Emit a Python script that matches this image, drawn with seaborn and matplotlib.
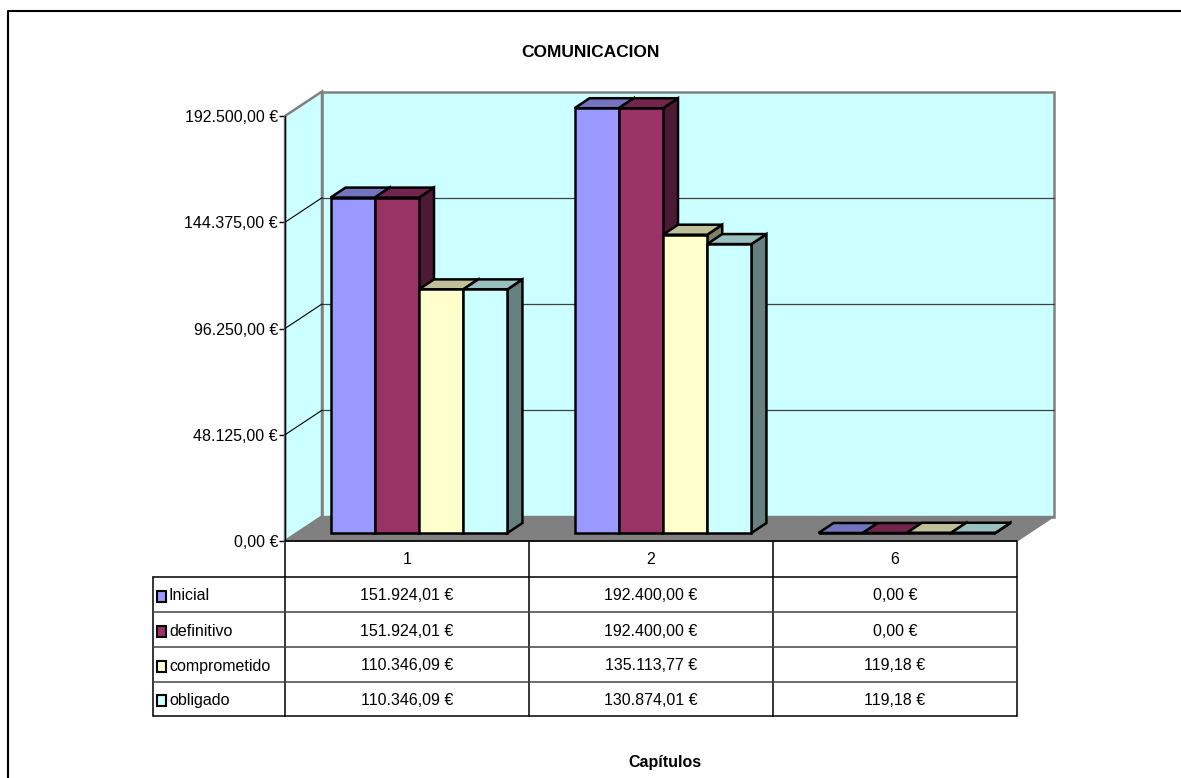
import numpy as np
import pandas as pd
import matplotlib
matplotlib.use('Agg')
import matplotlib.pyplot as plt
import seaborn as sns
from matplotlib.patches import Polygon, Rectangle
from matplotlib.lines import Line2D

# ---------------- data ----------------
capitulos = ['1', '2', '6']
series = ['Inicial', 'definitivo', 'comprometido', 'obligado']
inicial = [151924.01, 192400.00, 0.00]
definitivo = [151924.01, 192400.00, 0.00]
comprometido = [110346.09, 135113.77, 119.18]
obligado = [110346.09, 130874.01, 119.18]
y_ticks = [0, 48125, 96250, 144375, 192500]
colors = ['#9999FF', '#993366', '#FFFFCC', '#CCFFFF']
title = 'COMUNICACION'
xlabel = 'Capítulos'


def eur(v):
    s = f"{v:,.2f}"
    s = s.replace(',', 'X').replace('.', ',').replace('X', '.')
    return s + ' €'


values = {'Inicial': inicial, 'definitivo': definitivo,
          'comprometido': comprometido, 'obligado': obligado}
rows = []
for s in series:
    for c, v in zip(capitulos, values[s]):
        rows.append({'Capítulo': c, 'Serie': s, 'Importe': v})
df = pd.DataFrame(rows)

sns.set_style('white')
plt.rcParams['font.family'] = ['Liberation Sans', 'DejaVu Sans']
plt.rcParams['text.color'] = 'black'
plt.rcParams['axes.labelcolor'] = 'black'
plt.rcParams['ytick.color'] = 'black'
plt.rcParams['xtick.color'] = 'black'

W, H = 1181, 778
fig = plt.figure(figsize=(W / 100, H / 100), dpi=100)
fig.patch.set_facecolor('white')

# front plane of the 3D box (pixels)
X0, X1 = 285, 1017
Y0, Y1 = 541, 116
ax = fig.add_axes([X0 / W, 1 - Y0 / H, (X1 - X0) / W, (Y0 - Y1) / H])
ax.set_zorder(2)
ax.patch.set_visible(False)

sns.barplot(data=df, x='Capítulo', y='Importe', hue='Serie', order=capitulos,
            hue_order=series, palette=colors, saturation=1, width=0.725,
            dodge=True, errorbar=None, edgecolor='black', linewidth=1.8,
            legend=False, ax=ax)

ymax = y_ticks[-1]
ncat = len(capitulos)
ax.set_xlim(-0.5, ncat - 0.5)
ax.set_ylim(0, ymax)
PXX = ncat / (X1 - X0)
PXY = ymax / (Y0 - Y1)

# depth vectors (pixel -> data)
WDX, WDY = 37 * PXX, 24.5 * PXY      # wall depth
BDX, BDY = 12 * PXX, 8 * PXY         # bar plane offset
DDX, DDY = 15 * PXX, 10 * PXY        # bar depth

wall = '#CCFFFF'
gray = '#808080'
xl, xr = -0.5, ncat - 0.5
# back wall
ax.add_patch(Rectangle((xl + WDX, WDY), xr - xl, ymax, facecolor=wall,
                       edgecolor=gray, lw=1.8, zorder=1, clip_on=False))
# left wall
ax.add_patch(Polygon([(xl, 0), (xl, ymax), (xl + WDX, ymax + WDY), (xl + WDX, WDY)],
                     closed=True, facecolor=wall, edgecolor=gray, lw=1.8,
                     zorder=1, clip_on=False))
# floor
ax.add_patch(Polygon([(xl, 0), (xr, 0), (xr + WDX, WDY), (xl + WDX, WDY)],
                     closed=True, facecolor=gray, edgecolor=gray, lw=1,
                     zorder=1.5, clip_on=False))
# gridlines
for v in y_ticks[1:-1]:
    ax.add_line(Line2D([xl + WDX, xr + WDX], [v + WDY, v + WDY], color='#404040',
                       lw=0.9, zorder=1.2, clip_on=False))
    ax.add_line(Line2D([xl, xl + WDX], [v, v + WDY], color='black',
                       lw=0.8, zorder=1.2, clip_on=False))
ax.add_line(Line2D([xl, xr], [0, 0], color='black', lw=1.2, zorder=1.6, clip_on=False))

# 3D bars (front faces come from seaborn)
bars = sorted([p for p in ax.patches if isinstance(p, Rectangle) and p.get_width() < 0.5],
              key=lambda p: p.get_x())
for i, p in enumerate(bars):
    x0 = p.get_x() + BDX
    w = p.get_width()
    h = p.get_height()
    x1 = x0 + w
    yb = BDY
    yt = BDY + h
    fc = np.array(p.get_facecolor()[:3])
    p.set_xy((x0, yb))
    p.set_zorder(10 + 3 * i + 2)
    p.set_clip_on(False)
    side = Polygon([(x1, yb), (x1 + DDX, yb + DDY), (x1 + DDX, yt + DDY), (x1, yt)],
                   closed=True, facecolor=fc * 0.5, edgecolor='black', lw=1.8,
                   zorder=10 + 3 * i, clip_on=False)
    top = Polygon([(x0, yt), (x1, yt), (x1 + DDX, yt + DDY), (x0 + DDX, yt + DDY)],
                  closed=True, facecolor=fc * 0.75, edgecolor='black', lw=1.8,
                  zorder=10 + 3 * i + 1, clip_on=False)
    ax.add_patch(side)
    ax.add_patch(top)

# axes styling
for sp in ['top', 'right', 'bottom']:
    ax.spines[sp].set_visible(False)
ax.spines['left'].set_color('black')
ax.spines['left'].set_linewidth(1.0)
ax.spines['left'].set_zorder(3)
ax.set_xticks([])
ax.set_yticks(y_ticks)
ax.set_yticklabels([eur(v) for v in y_ticks])
ax.tick_params(axis='y', direction='out', length=4.5, width=1, color='black',
               labelcolor='black', labelsize=11.5, pad=0.5, left=True)
ax.set_xlabel('')
ax.set_ylabel('')

# overlay for table, titles, border
ov = fig.add_axes([0, 0, 1, 1])
ov.set_zorder(1)
ov.set_xlim(0, W)
ov.set_ylim(H, 0)
ov.axis('off')

# outer border (extends beyond the canvas on right/bottom)
ov.plot([8, 8, W + 5], [H + 5, 11, 11], color='black', lw=1.5)

ov.text(590, 52, title, ha='center', va='center', fontsize=12.5, fontweight='bold',
        color='black')
ov.text(665, 762, xlabel, ha='center', va='center', fontsize=11.5, fontweight='bold',
        color='black')

# data table
colw = (X1 - X0) / ncat
TL = 153
row_edges = [541, 577, 612, 647, 682, 716]
for k in range(ncat + 1):
    xx = X0 + k * colw
    ov.plot([xx, xx], [row_edges[0], row_edges[-1]], color='black', lw=1.1)
ov.plot([TL, TL], [row_edges[1], row_edges[-1]], color='black', lw=1.1)
for j, yy in enumerate(row_edges[1:]):
    c = 'black' if j in (0, len(row_edges) - 2) else '#444444'
    ov.plot([TL, X1], [yy, yy], color=c, lw=1.1)

for k, cap in enumerate(capitulos):
    ov.text(X0 + (k + 0.5) * colw, (row_edges[0] + row_edges[1]) / 2 + 1, cap,
            ha='center', va='center', fontsize=11.5, color='black')
for j, s in enumerate(series):
    yc = (row_edges[j + 1] + row_edges[j + 2]) / 2 + 1.5
    ov.add_patch(Rectangle((157, yc - 5.5), 9, 11, facecolor=colors[j],
                           edgecolor='black', lw=1.5))
    ov.text(169, yc, s, ha='left', va='center', fontsize=11.5, color='black')
    for k in range(ncat):
        ov.text(X0 + (k + 0.5) * colw, yc, eur(values[s][k]),
                ha='center', va='center', fontsize=11.5, color='black')

fig.savefig('out.png', dpi=100)
